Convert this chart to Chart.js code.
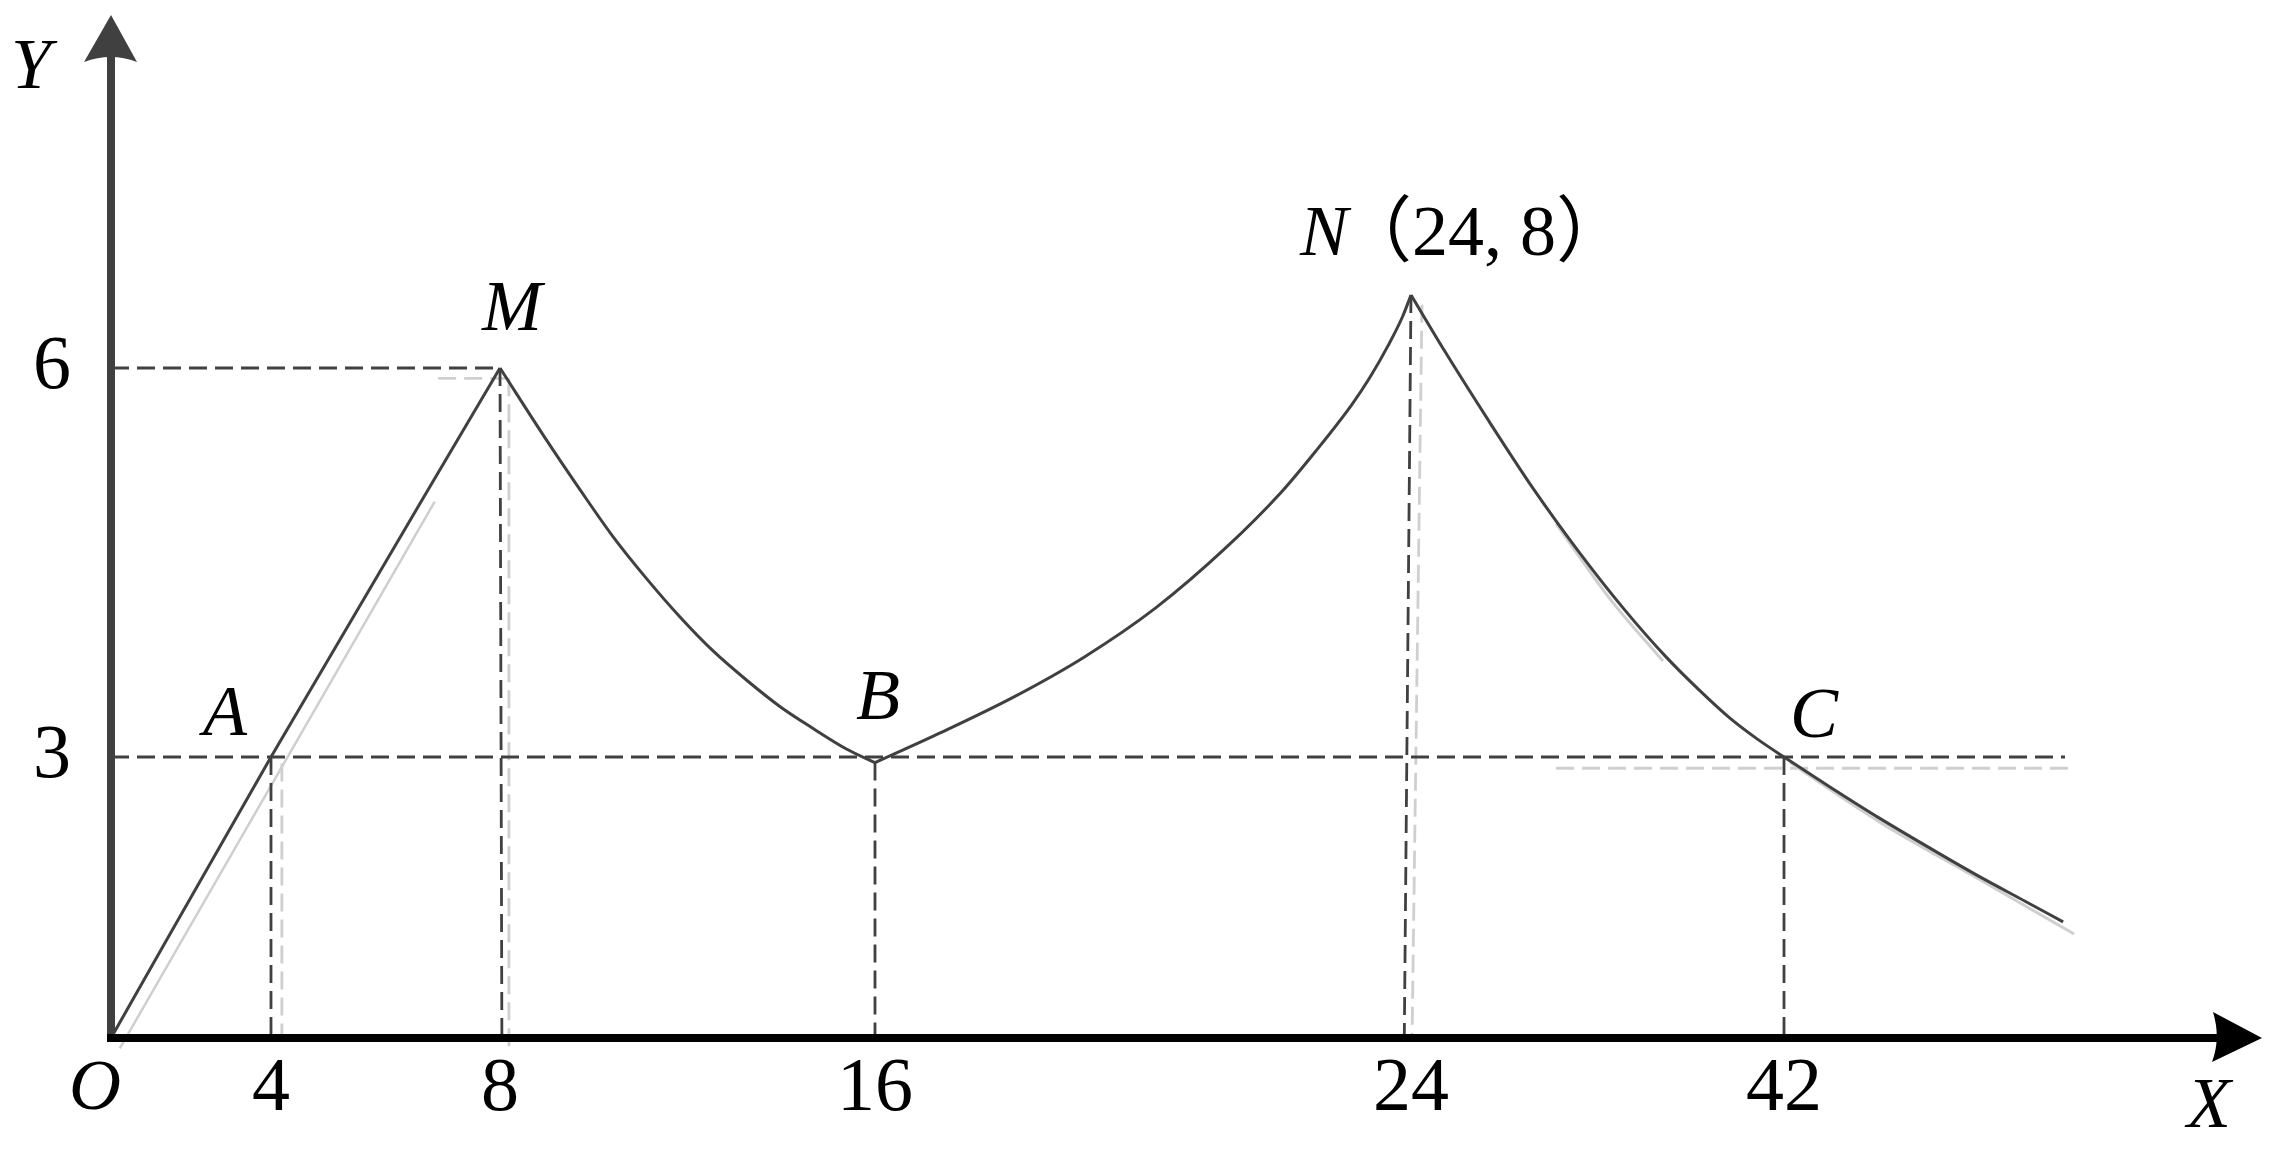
<!DOCTYPE html>
<html>
<head>
<meta charset="utf-8">
<script src="https://cdn.jsdelivr.net/npm/chart.js@4.4.1/dist/chart.umd.min.js"></script>
<style>
html,body{margin:0;padding:0;background:#fff;overflow:hidden}
canvas{display:block}
</style>
</head>
<body>
<canvas id="c" width="2274" height="1155" style="width:2274px;height:1155px"></canvas>
<script>
// ---------- data ----------
const xTickValues = [4, 8, 16, 24, 42];
const yTickValues = [3, 6];

// O -> A -> M (straight rise)
const riseOMx = [0, 4, 8];
const riseOMy = [0, 3, 6];
// M -> B (decaying)
const fallMBx = [8, 9.00, 9.71, 10.41, 11.14, 11.84, 12.54, 13.27, 13.97, 14.68, 15.40, 16];
const fallMBy = [6, 5.44, 5.06, 4.70, 4.37, 4.08, 3.82, 3.59, 3.39, 3.22, 3.06, 2.94];
// B -> N (growing)
const riseBNx = [16, 16.99, 18.06, 19.12, 20.19, 21.25, 22.06, 22.58, 23.12, 23.39, 23.66, 23.87, 24];
const riseBNy = [2.94, 3.19, 3.46, 3.77, 4.15, 4.62, 5.04, 5.36, 5.72, 5.93, 6.62, 7.39, 8];
// N -> C -> end (decaying)
const fallNCx = [24, 25.64, 27.76, 29.94, 32.11, 34.23, 36.26, 37.95, 39.39, 40.70, 42, 44.21, 46.57, 49.31, 51.43, 53.60, 55.43];
const fallNCy = [8, 6.45, 5.59, 5.06, 4.58, 4.15, 3.78, 3.51, 3.30, 3.14, 3, 2.68, 2.35, 1.99, 1.72, 1.46, 1.24];

// dashed guide lines
const guide6x = [0, 8],      guide6y = [6, 6];
const guide3x = [0, 55.52],  guide3y = [3, 3];
const dropAx = [4, 4],       dropAy = [3, 0];
const dropMx = [8, 8.04],    dropMy = [6, 0];
const dropBx = [16, 16],     dropBy = [2.94, 0];
const dropNx = [24, 23.9],   dropNy = [8, 0];
const dropCx = [42, 42],     dropCy = [3, 0];

// faint grey duplicate strokes visible in the figure
const ghostOMx = [0.22, 6.86],        ghostOMy = [-0.11, 4.97];
const ghostDropAx = [4.19, 4.19],     ghostDropAy = [2.93, -0.11];
const ghostDropMx = [8.19, 8.19],     ghostDropMy = [5.92, -0.11];
const ghostLevelMx = [6.92, 8.19],    ghostLevelMy = [5.92, 5.92];
const ghostDropNx = [24.53, 24.05],   ghostDropNy = [7.73, -0.02];
const ghostLevelCx = [31.0, 56.05],   ghostLevelCy = [2.88, 2.88];
const ghostMidx = [31.0, 33.6, 36.16],           ghostMidy = [4.80, 4.22, 3.74];
const ghostTailx = [42.29, 46.57, 51.43, 55.96], ghostTaily = [2.94, 2.31, 1.69, 1.11];

// labels
const pointNames = ['A', 'M', 'B', 'C'];
const pointX = [4, 8, 16, 42];
const pointY = [3, 6, 3, 3];
const peakName = 'N', peakText = '（24, 8）', peakX = 24, peakY = 8;
const originName = 'O', xAxisName = 'X', yAxisName = 'Y';

// ---------- a schematic (piecewise-linear) axis scale ----------
class PiecewiseScale extends Chart.LinearScale {
  _toFrac(v) {
    const kv = this.options.knotValues, kf = this.options.knotFractions;
    let i = 0;
    if (v >= kv[kv.length - 1]) i = kv.length - 2;
    else if (v > kv[0]) { while (i < kv.length - 2 && v > kv[i + 1]) i++; }
    return kf[i] + (v - kv[i]) * (kf[i + 1] - kf[i]) / (kv[i + 1] - kv[i]);
  }
  _fromFrac(f) {
    const kv = this.options.knotValues, kf = this.options.knotFractions;
    let i = 0;
    if (f >= kf[kf.length - 1]) i = kf.length - 2;
    else if (f > kf[0]) { while (i < kf.length - 2 && f > kf[i + 1]) i++; }
    return kv[i] + (f - kf[i]) * (kv[i + 1] - kv[i]) / (kf[i + 1] - kf[i]);
  }
  getPixelForValue(value) {
    if (value === null || value === undefined || isNaN(value)) return NaN;
    return this.getPixelForDecimal(this._toFrac(value));
  }
  getValueForPixel(pixel) {
    return this._fromFrac(this.getDecimalForPixel(pixel));
  }
}
PiecewiseScale.id = 'piecewise';
Chart.register(PiecewiseScale);

// ---------- styling ----------
const DARK = '#404040', LIGHT = '#cfcfcf';
const SERIF = '"Liberation Serif", "Times New Roman", serif';
const pts = (xs, ys) => xs.map((x, i) => ({ x: x, y: ys[i] }));
const curve = (xs, ys, color, w) => ({
  data: pts(xs, ys), borderColor: color, borderWidth: w, pointRadius: 0,
  cubicInterpolationMode: 'monotone', fill: false, clip: false
});
const dashed = (xs, ys, color) => ({
  data: pts(xs, ys), borderColor: color, borderWidth: 2.8, borderDash: [18, 8],
  pointRadius: 0, tension: 0, fill: false, clip: false
});

const datasets = [
  curve(riseOMx, riseOMy, DARK, 3),
  curve(fallMBx, fallMBy, DARK, 3),
  curve(riseBNx, riseBNy, DARK, 3),
  curve(fallNCx, fallNCy, DARK, 3),
  dashed(guide6x, guide6y, DARK),
  dashed(guide3x, guide3y, DARK),
  dashed(dropAx, dropAy, DARK),
  dashed(dropMx, dropMy, DARK),
  dashed(dropBx, dropBy, DARK),
  dashed(dropNx, dropNy, DARK),
  dashed(dropCx, dropCy, DARK),
  curve(ghostOMx, ghostOMy, LIGHT, 2.5),
  dashed(ghostDropAx, ghostDropAy, LIGHT),
  dashed(ghostDropMx, ghostDropMy, LIGHT),
  dashed(ghostLevelMx, ghostLevelMy, LIGHT),
  dashed(ghostDropNx, ghostDropNy, LIGHT),
  dashed(ghostLevelCx, ghostLevelCy, LIGHT),
  curve(ghostMidx, ghostMidy, LIGHT, 3),
  curve(ghostTailx, ghostTaily, LIGHT, 3)
];

// ---------- axes with arrows and the point labels ----------
const decor = {
  id: 'decor',
  beforeDraw(chart) {
    const c = chart.ctx;
    c.save(); c.fillStyle = '#fff'; c.fillRect(0, 0, chart.width, chart.height); c.restore();
  },
  afterDraw(chart) {
    const ctx = chart.ctx, xs = chart.scales.x, ys = chart.scales.y;
    const ox = xs.getPixelForValue(0), oy = ys.getPixelForValue(0);
    const top = chart.chartArea.top, right = chart.chartArea.right;
    ctx.save();
    // Y axis (dark grey)
    ctx.fillStyle = DARK;
    ctx.fillRect(ox - 4, top + 40, 8, oy + 4 - (top + 40));
    ctx.beginPath();
    ctx.moveTo(ox, top);
    ctx.lineTo(ox + 26, top + 47);
    ctx.quadraticCurveTo(ox, top + 37, ox - 27, top + 47);
    ctx.closePath(); ctx.fill();
    // X axis (black)
    ctx.fillStyle = '#000';
    ctx.fillRect(ox - 4, oy - 4, (right - 45) - (ox - 4), 8);
    ctx.beginPath();
    ctx.moveTo(right, oy);
    ctx.lineTo(right - 49, oy - 26);
    ctx.quadraticCurveTo(right - 41, oy, right - 50, oy + 24);
    ctx.closePath(); ctx.fill();

    // letters
    ctx.fillStyle = '#000';
    ctx.font = 'italic 72px ' + SERIF;
    ctx.textAlign = 'center';
    ctx.textBaseline = 'middle';
    ctx.fillText(originName, ox - 16, oy + 52);
    ctx.fillText(yAxisName, ox - 80, top + 54);
    ctx.fillText(xAxisName, right - 53, oy + 70);
    const offs = [[-46, -41], [12, -57], [3, -57], [30, -39]];
    pointNames.forEach((n, i) => {
      ctx.fillText(n, xs.getPixelForValue(pointX[i]) + offs[i][0], ys.getPixelForValue(pointY[i]) + offs[i][1]);
    });
    // N(24, 8)
    const nx = xs.getPixelForValue(peakX) - 111, ny = ys.getPixelForValue(peakY) - 40;
    ctx.textAlign = 'left';
    ctx.textBaseline = 'alphabetic';
    ctx.fillText(peakName, nx, ny);
    const w = ctx.measureText(peakName).width;
    ctx.font = '72px ' + SERIF + ', "Noto Sans CJK SC"';
    ctx.fillText(peakText, nx + w - 8, ny);
    ctx.restore();
  }
};

new Chart(document.getElementById('c'), {
  type: 'line',
  data: { datasets: datasets },
  plugins: [decor],
  options: {
    responsive: false,
    devicePixelRatio: 1,
    animation: false,
    events: [],
    layout: { autoPadding: false, padding: { left: 0, top: 15, right: 12, bottom: 0 } },
    plugins: { legend: { display: false }, tooltip: { enabled: false } },
    scales: {
      x: {
        type: 'piecewise',
        min: 0, max: 65,
        knotValues: [0, 4, 8, 16, 24, 42, 65],
        knotFractions: [0, 0.07438, 0.18085, 0.35518, 0.60437, 0.77778, 1],
        grid: { display: false, drawTicks: false },
        border: { display: false },
        afterBuildTicks: s => { s.ticks = xTickValues.map(v => ({ value: v })); },
        afterFit: s => { s.height = 117; s.paddingLeft = 0; s.paddingRight = 0; s.paddingTop = 0; s.paddingBottom = 0; },
        ticks: {
          autoSkip: false, maxRotation: 0, padding: 6, color: '#000',
          font: { family: SERIF, size: 76 },
          callback: v => String(v)
        }
      },
      y: {
        type: 'piecewise',
        min: 0, max: 16,
        knotValues: [0, 3, 6, 8, 16],
        knotFractions: [0, 0.27468, 0.65494, 0.72630, 1],
        grid: { display: false, drawTicks: false },
        border: { display: false },
        afterBuildTicks: s => { s.ticks = yTickValues.map(v => ({ value: v })); },
        afterFit: s => { s.width = 111; s.paddingLeft = 0; s.paddingRight = 0; s.paddingTop = 0; s.paddingBottom = 0; },
        ticks: {
          autoSkip: false, padding: 40, color: '#000',
          font: { family: SERIF, size: 76 },
          callback: v => String(v)
        }
      }
    }
  }
});
</script>
</body>
</html>
